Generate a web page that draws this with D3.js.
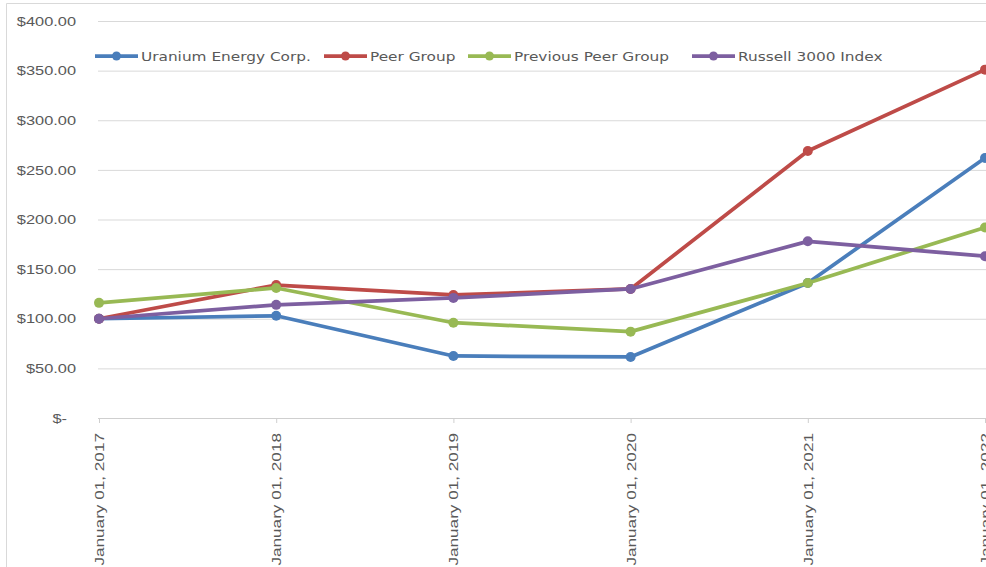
<!DOCTYPE html>
<html>
<head>
<meta charset="utf-8">
<script src="https://cdn.jsdelivr.net/npm/d3@7"></script>
<style>
  html, body { margin: 0; padding: 0; background: #fff; }
  svg { display: block; font-family: "DejaVu Sans", "Open Sans", sans-serif; }
</style>
</head>
<body>
<div id="chart"></div>
<script>
(function () {
  // dates on the x axis
  const dates = ["January 01, 2017", "January 01, 2018", "January 01, 2019",
                 "January 01, 2020", "January 01, 2021", "January 01, 2022"];

  // series values
  const uranium = [100, 103, 62.5, 61.5, 136, 262];
  const peerGroup = [100, 134, 124, 130, 269, 351];
  const prevPeerGroup = [116, 131, 96, 87, 136, 192];
  const russell = [100, 114, 121, 130, 178, 163];

  const seriesNames = ["Uranium Energy Corp.", "Peer Group", "Previous Peer Group", "Russell 3000 Index"];
  const yTicks = [0, 50, 100, 150, 200, 250, 300, 350, 400];

  const series = [
    { name: seriesNames[0], values: uranium, color: "#4A7EBB" },
    { name: seriesNames[1], values: peerGroup, color: "#BE4B48" },
    { name: seriesNames[2], values: prevPeerGroup, color: "#98B954" },
    { name: seriesNames[3], values: russell, color: "#7D5FA0" }
  ];

  const width = 986, height = 567;
  const plotLeft = 99, plotRight = 985;
  const plotTop = 21, plotBottom = 418;

  const svg = d3.select("#chart").append("svg")
    .attr("width", width)
    .attr("height", height);

  // outer chart border (cut off on the right and bottom)
  svg.append("path")
    .attr("d", `M6.5,${height} V3.5 H${width}`)
    .attr("fill", "none")
    .attr("stroke", "#d9d9d9");

  const x = d3.scalePoint()
    .domain(dates)
    .range([plotLeft, plotRight]);

  const y = d3.scaleLinear()
    .domain([0, 400])
    .range([plotBottom, plotTop]);

  // grid + y labels
  const yAxis = svg.append("g")
    .attr("transform", `translate(${plotLeft - 1},0)`)
    .call(d3.axisLeft(y)
      .tickValues(yTicks)
      .tickSize(0)
      .tickFormat(d => d === 0 ? "$-" : "$" + d3.format(".2f")(d)));
  yAxis.select(".domain").remove();
  yAxis.selectAll(".tick line")
    .attr("x2", width - plotLeft + 1)
    .attr("stroke", d => d === 0 ? "#cfcfcf" : "#d9d9d9")
    .attr("stroke-width", 1);
  // the source text is wide, so stretch it a little
  yAxis.selectAll(".tick text")
    .attr("fill", "#595959")
    .style("font-size", "13px")
    .attr("x", 0)
    .attr("transform", d => `translate(${d === 0 ? -31 : -22},0) scale(1.26,1)`);

  // x axis
  const xAxis = svg.append("g")
    .attr("transform", `translate(0,${plotBottom})`)
    .call(d3.axisBottom(x).tickSize(5));
  xAxis.select(".domain").remove();
  xAxis.selectAll(".tick line").attr("stroke", "#cfcfcf");
  xAxis.selectAll(".tick text")
    .attr("fill", "#595959")
    .style("font-size", "13px")
    .attr("text-anchor", "end")
    .attr("x", 0)
    .attr("y", 0)
    .attr("dy", "0.35em")
    .attr("transform", "translate(0,15) rotate(-90) scale(1.32,1)");

  // lines
  const line = d3.line()
    .x((d, i) => x(dates[i]))
    .y(d => y(d));

  const groups = svg.selectAll(".series")
    .data(series)
    .join("g")
    .attr("class", "series");

  groups.append("path")
    .attr("d", d => line(d.values))
    .attr("fill", "none")
    .attr("stroke", d => d.color)
    .attr("stroke-width", 3.75)
    .attr("stroke-linejoin", "round")
    .attr("stroke-linecap", "round");

  groups.selectAll("circle")
    .data(d => d.values.map((v, i) => ({ v, i, color: d.color })))
    .join("circle")
    .attr("cx", d => x(dates[d.i]))
    .attr("cy", d => y(d.v))
    .attr("r", 5)
    .attr("fill", d => d.color);

  // legend
  const legendX = [95, 324, 468, 692];
  const legendY = 56;
  const legend = svg.append("g");
  series.forEach((s, i) => {
    const g = legend.append("g").attr("transform", `translate(${legendX[i]},${legendY})`);
    g.append("line")
      .attr("x1", 0).attr("x2", 43)
      .attr("stroke", s.color)
      .attr("stroke-width", 3.75);
    g.append("circle")
      .attr("cx", 21.5).attr("r", 4.5)
      .attr("fill", s.color);
    g.append("text")
      .attr("dy", "0.35em")
      .attr("fill", "#595959")
      .style("font-size", "13px")
      .attr("transform", "translate(46,0) scale(1.18,1)")
      .text(s.name);
  });
})();
</script>
</body>
</html>
